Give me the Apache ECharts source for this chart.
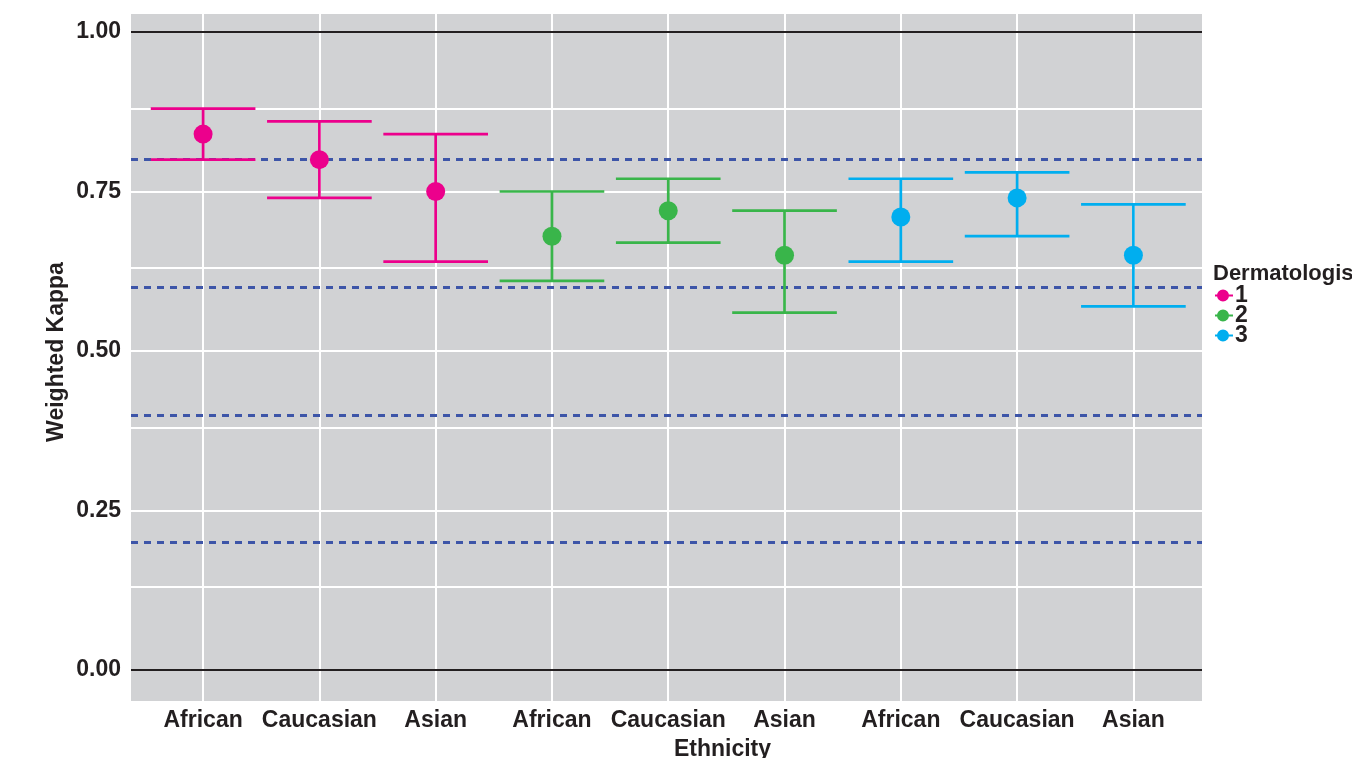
<!DOCTYPE html>
<html>
<head>
<meta charset="utf-8">
<script src="https://cdn.jsdelivr.net/npm/echarts@6/dist/echarts.min.js"></script>
<style>html,body{margin:0;padding:0;background:#fff;}#c{width:1352px;height:758px;}</style>
</head>
<body>
<div id="c"></div>
<script>
// ---- data ----
const categories = ['African','Caucasian','Asian','African','Caucasian','Asian','African','Caucasian','Asian'];
const dermatologist = ['1','1','1','2','2','2','3','3','3'];
const kappa = [0.84, 0.80, 0.75, 0.68, 0.72, 0.65, 0.71, 0.74, 0.65];
const lower = [0.80, 0.74, 0.64, 0.61, 0.67, 0.56, 0.64, 0.68, 0.57];
const upper = [0.88, 0.86, 0.84, 0.75, 0.77, 0.72, 0.77, 0.78, 0.73];
const groups = ['1','2','3'];
const yTicks = [0, 0.25, 0.5, 0.75, 1];
const yMinorGrid = [0.125, 0.375, 0.625, 0.875];
const refLines = [0.2, 0.4, 0.6, 0.8];
const solidLines = [0, 1];

// ---- styles ----
const colors = {'1':'#EC008C','2':'#39B54A','3':'#00AEEF'};
const txt = '#231F20';
const font = 'Liberation Sans, Arial, sans-serif';

const chart = echarts.init(document.getElementById('c'), null, {renderer:'canvas'});
const xIdx = categories.map((c,i)=>i);

const series = [];
// white gridlines (behind everything)
series.push({
  type:'line', data:[], silent:true, zlevel:0, z:1,
  markLine:{
    silent:true, symbol:['none','none'], label:{show:false}, animation:false,
    lineStyle:{color:'#ffffff', width:2, type:'solid'},
    data: [
      ...yTicks.map(v=>({yAxis:v})),
      ...yMinorGrid.map(v=>({yAxis:v})),
      ...xIdx.map(v=>({xAxis:v}))
    ]
  }
});
// solid black lines at 0 and 1
series.push({
  type:'line', data:[], silent:true, zlevel:1, z:2,
  markLine:{
    silent:true, symbol:['none','none'], label:{show:false}, animation:false,
    lineStyle:{color:txt, width:2, type:'solid'},
    data: solidLines.map(v=>({yAxis:v}))
  }
});
groups.forEach(g=>{
  const d = [];
  xIdx.forEach(i=>{ if (dermatologist[i]===g) d.push([i, lower[i], upper[i]]); });
  series.push({
    name:g, type:'custom', zlevel:1, z:3, silent:true,
    itemStyle:{color:colors[g]},
    encode:{x:0, y:[1,2]},
    data:d,
    renderItem:function(params, api){
      const x = api.value(0), lo = api.value(1), hi = api.value(2);
      const pLo = api.coord([x, lo]), pHi = api.coord([x, hi]);
      const l = api.coord([x-0.45, lo])[0], r = api.coord([x+0.45, lo])[0];
      const st = {stroke:colors[g], lineWidth:2.7, fill:null};
      return {type:'group', children:[
        {type:'line', shape:{x1:pLo[0], y1:pLo[1], x2:pHi[0], y2:pHi[1]}, style:st},
        {type:'line', shape:{x1:l, y1:pLo[1], x2:r, y2:pLo[1]}, style:st},
        {type:'line', shape:{x1:l, y1:pHi[1], x2:r, y2:pHi[1]}, style:st}
      ]};
    }
  });
});
groups.forEach(g=>{
  const d = [];
  xIdx.forEach(i=>{ if (dermatologist[i]===g) d.push([i, kappa[i]]); });
  series.push({
    name:g, type:'scatter', zlevel:1, z:4, silent:true,
    symbol:'circle', symbolSize:19,
    itemStyle:{color:colors[g], opacity:1},
    data:d
  });
});
// dashed reference lines (on top)
series.push({
  type:'line', data:[], silent:true, zlevel:1, z:10,
  markLine:{
    silent:true, symbol:['none','none'], label:{show:false}, animation:false,
    lineStyle:{color:'#3D55A8', width:3, type:[7,6]},
    data: refLines.map(v=>({yAxis:v}))
  }
});

const legendIcon = 'path://M0,4.5 L18,4.5 L18,6.5 L0,6.5 Z M8,-0.5 A6,6 0 1 1 7.99,-0.5 Z';

chart.setOption({
  animation:false,
  backgroundColor:'#ffffff',
  grid:{left:131, right:150, top:14, bottom:57, show:true, backgroundColor:'#D1D2D4', borderWidth:0,
        containLabel:false, outerBoundsMode:'none'},
  xAxis:{
    type:'value', min:-0.62, max:8.59,
    name:'Ethnicity', nameLocation:'middle', nameGap:37, nameMoveOverlap:false,
    nameTextStyle:{fontFamily:font, fontWeight:'bold', fontSize:23, color:txt, padding:[0,0,0,112]},
    axisLine:{show:false},
    axisTick:{show:true, length:4, customValues:xIdx, lineStyle:{color:'#333', width:1.5}},
    axisLabel:{customValues:xIdx, margin:8, fontFamily:font, fontWeight:'bold', fontSize:23, color:txt,
      formatter:function(v){ return categories[Math.round(v)] || ''; }},
    splitLine:{show:false}
  },
  yAxis:{
    type:'value', min:-0.0487, max:1.0283,
    axisLine:{show:false},
    axisTick:{show:true, length:4, customValues:yTicks, lineStyle:{color:'#333', width:1.5}},
    axisLabel:{customValues:yTicks, margin:10, fontFamily:font, fontWeight:'bold', fontSize:23, color:txt,
      padding:[10,0,0,0],
      formatter:function(v){ return v.toFixed(2); }},
    splitLine:{show:false}
  },
  legend:{
    orient:'vertical', left:1215, top:284, padding:0, itemWidth:18, itemHeight:12, itemGap:-3,
    selectedMode:false,
    textStyle:{fontFamily:font, fontWeight:'bold', fontSize:23, color:txt, padding:[0,0,0,-3]},
    data: groups.map(g=>({name:g, icon:legendIcon, itemStyle:{color:colors[g]}}))
  },
  graphic:[{
    type:'text', left:1213, top:263,
    style:{text:'Dermatologist', fontFamily:font, fontWeight:'bold', fontSize:22, fill:txt}
  },{
    type:'text', x:57, y:352, rotation:Math.PI/2,
    style:{text:'Weighted Kappa', fontFamily:font, fontWeight:'bold', fontSize:23, fill:txt,
           align:'center', verticalAlign:'middle'}
  }],
  series: series
});
</script>
</body>
</html>
